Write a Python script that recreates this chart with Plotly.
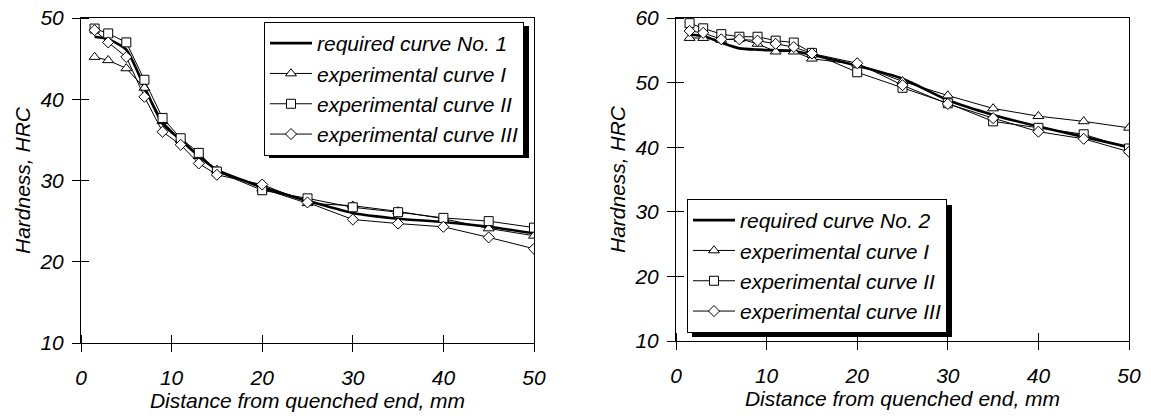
import plotly.graph_objects as go

# ---------------- data ----------------
distance = [1.5, 3, 5, 7, 9, 11, 13, 15, 20, 25, 30, 35, 40, 45, 50]

# left chart
req_curve_1 = [47.7, 47.4, 46.1, 41.5, 37.0, 35.0, 33.0, 31.3, 29.2, 27.5, 26.0, 25.3, 24.9, 24.3, 23.5]
left_exp_I = [45.2, 44.8, 43.8, 41.4, 37.3, 35.0, 33.0, 31.3, 29.0, 27.2, 26.9, 26.2, 25.3, 24.1, 23.2]
left_exp_II = [48.7, 48.1, 47.0, 42.4, 37.7, 35.2, 33.4, 31.1, 28.8, 27.8, 26.7, 26.1, 25.4, 25.0, 24.2]
left_exp_III = [48.5, 47.0, 45.2, 40.3, 36.0, 34.4, 32.1, 30.7, 29.5, 27.3, 25.2, 24.7, 24.3, 23.0, 21.6]

# right chart
req_curve_2 = [57.4, 57.2, 56.2, 55.3, 55.1, 55.0, 54.9, 54.3, 52.6, 50.6, 47.3, 45.0, 43.2, 41.6, 40.0]
right_exp_I = [56.9, 56.9, 56.6, 56.8, 56.0, 54.8, 54.8, 53.7, 52.8, 50.2, 48.0, 46.0, 44.8, 44.0, 43.0]
right_exp_II = [59.2, 58.4, 57.5, 57.1, 57.1, 56.5, 56.2, 54.6, 51.6, 49.2, 46.8, 44.0, 43.0, 42.0, 39.8]
right_exp_III = [58.0, 57.7, 56.7, 56.7, 56.5, 56.0, 55.5, 54.5, 53.0, 49.6, 46.7, 44.5, 42.4, 41.3, 39.3]

x_ticks = [0, 10, 20, 30, 40, 50]
left_y_ticks = [10, 20, 30, 40, 50]
right_y_ticks = [10, 20, 30, 40, 50, 60]

names_left = ["required curve No. 1", "experimental curve I", "experimental curve II", "experimental curve III"]
names_right = ["required curve No. 2", "experimental curve I", "experimental curve II", "experimental curve III"]

# ---------------- styling ----------------
W, H = 1151, 419
FONT = "Liberation Sans, Arial, sans-serif"
tick_font = dict(family=FONT, size=21, color="black", style="italic")
title_font = dict(family=FONT, size=21, color="black", style="italic")
leg_font = dict(family=FONT, size=21, color="black", style="italic")

def px2x(p):
    return p / W

def px2y(p):
    return (H - p) / H

left_dom_x = [px2x(81), px2x(534)]
right_dom_x = [px2x(676), px2x(1129)]
left_dom_y = [px2y(343), px2y(18)]
right_dom_y = [px2y(341), px2y(18)]

fig = go.Figure()

def add_set(xa, ya, req, e1, e2, e3, names, legend):
    fig.add_trace(go.Scatter(
        x=distance, y=req, name=names[0], xaxis=xa, yaxis=ya, legend=legend,
        mode="lines", line=dict(color="black", width=2.6, shape="spline", smoothing=0.6)))
    specs = [(e1, "triangle-up", 9.5), (e2, "square", 9), (e3, "diamond", 8.5)]
    for (vals, sym, sz), nm in zip(specs, names[1:]):
        fig.add_trace(go.Scatter(
            x=distance, y=vals, name=nm, xaxis=xa, yaxis=ya, legend=legend,
            mode="lines+markers", line=dict(color="black", width=1),
            marker=dict(symbol=sym, size=sz, color="white",
                        line=dict(color="black", width=1))))

add_set("x", "y", req_curve_1, left_exp_I, left_exp_II, left_exp_III, names_left, "legend")
add_set("x2", "y2", req_curve_2, right_exp_I, right_exp_II, right_exp_III, names_right, "legend2")

def xaxis_main(dom, anchor):
    return dict(domain=dom, anchor=anchor, range=[0, 50], tickmode="array", tickvals=x_ticks,
                showgrid=False, zeroline=False, showline=True, linecolor="black",
                linewidth=1, mirror=True, ticks="outside", ticklen=8, tickcolor="black",
                tickwidth=1, tickfont=tick_font, ticklabelstandoff=8, automargin=False,
                minor=dict(tickmode="array", tickvals=x_ticks, ticks="inside", ticklen=8,
                           tickcolor="black", tickwidth=1, showgrid=False),
                title=dict(text="Distance from quenched end, mm", font=title_font, standoff=4))

def yaxis_main(dom, anchor, rng, tv):
    return dict(domain=dom, anchor=anchor, range=rng, tickmode="array", tickvals=tv,
                showgrid=False, zeroline=False, showline=True, linecolor="black",
                linewidth=1, mirror=True, ticks="outside", ticklen=8, tickcolor="black",
                tickwidth=1, tickfont=tick_font, ticklabelstandoff=4, automargin=False,
                minor=dict(tickmode="array", tickvals=tv, ticks="inside", ticklen=8,
                           tickcolor="black", tickwidth=1, showgrid=False),
                title=dict(text="Hardness, HRC", font=title_font, standoff=3))

fig.update_layout(
    width=W, height=H,
    margin=dict(l=0, r=0, t=0, b=0, autoexpand=False),
    paper_bgcolor="white", plot_bgcolor="white",
    xaxis=xaxis_main(left_dom_x, "y"),
    yaxis=yaxis_main(left_dom_y, "x", [10, 50], left_y_ticks),
    xaxis2=xaxis_main(right_dom_x, "y2"),
    yaxis2=yaxis_main(right_dom_y, "x2", [10, 60], right_y_ticks),
    legend=dict(x=px2x(264), y=px2y(22), xanchor="left", yanchor="top",
                bgcolor="white", bordercolor="black", borderwidth=1,
                font=leg_font, itemwidth=42, tracegroupgap=0),
    legend2=dict(x=px2x(687), y=px2y(333), xanchor="left", yanchor="bottom",
                 bgcolor="white", bordercolor="black", borderwidth=1,
                 font=leg_font, itemwidth=42, tracegroupgap=0),
    shapes=[
        dict(type="rect", xref="paper", yref="paper", layer="above",
             x0=px2x(269), x1=px2x(529), y0=px2y(158), y1=px2y(26),
             fillcolor="black", line=dict(width=0)),
        dict(type="rect", xref="paper", yref="paper", layer="above",
             x0=px2x(692), x1=px2x(952), y0=px2y(337), y1=px2y(205),
             fillcolor="black", line=dict(width=0)),
    ],
    showlegend=True,
)

fig.write_html(
    "out.html",
    config={"displayModeBar": False},
    post_script="document.body.style.margin='0';document.body.style.overflow='hidden';",
)
